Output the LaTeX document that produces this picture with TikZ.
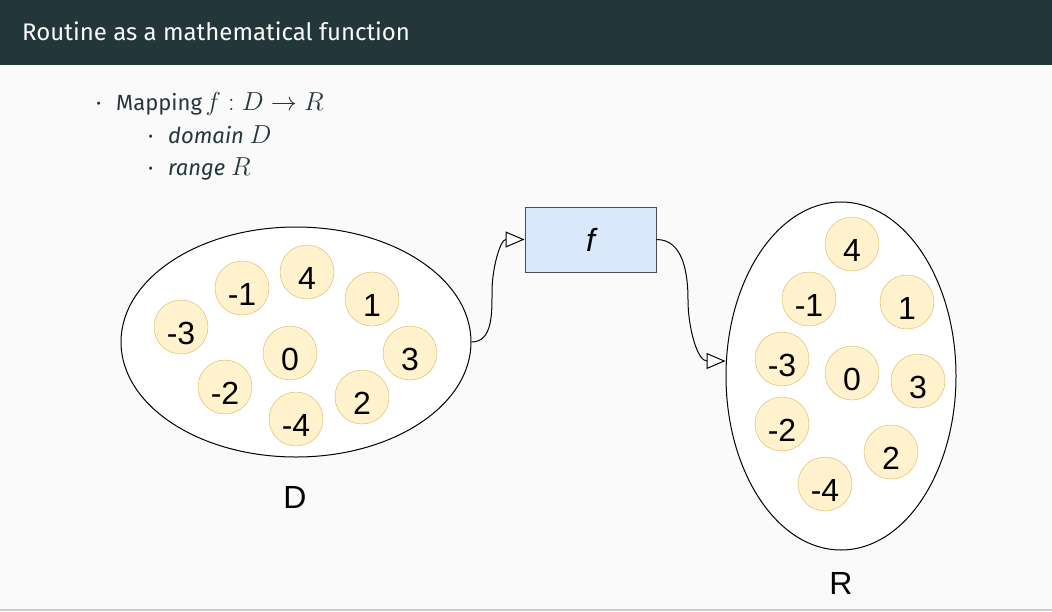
\RequirePackage{fix-cm}
\documentclass[tikz,border=0pt]{standalone}
\usepackage{fontspec}
\setmainfont{Fira Sans}
\newfontfamily\drawfont{Liberation Sans}
\usetikzlibrary{shapes.geometric,arrows.meta}

\definecolor{mDarkTeal}{HTML}{23373B}
\definecolor{pagebg}{HTML}{FAFAFA}
\definecolor{numfill}{HTML}{FFF2CC}
\definecolor{numline}{HTML}{D6B656}
\definecolor{boxfill}{HTML}{DAE8FC}
\definecolor{boxline}{HTML}{4D4D4D}
\newcommand\bigmath[1]{{\fontsize{26}{30}\selectfont$#1$}}

\begin{document}
\begin{tikzpicture}[x=1pt,y=-1pt,
  txt/.style={anchor=base west,text=mDarkTeal,inner sep=0pt,font=\fontsize{22}{26}\selectfont},
  set/.style={ellipse,draw,fill=white,line width=1pt,inner sep=0pt},
  num/.style={circle,draw=numline,fill=numfill,minimum size=54pt,inner sep=0pt,
    font=\drawfont\fontsize{32}{36}\selectfont,text height=34pt,text depth=0pt},
  big/.style={font=\drawfont\fontsize{32}{36}\selectfont},
  flow/.style={line width=1pt,-{Triangle[length=19pt,width=16pt,fill=white]}}]
\useasboundingbox (0,0) rectangle (1052,611);
\fill[pagebg] (0,0) rectangle (1052,611);
\fill[mDarkTeal] (0,0) rectangle (1052,65);
\draw[black!20,line width=1.5pt] (0,610) -- (1052,610);

% frame title and bullets
\node[anchor=base west,inner sep=0pt,text=pagebg,font=\fontsize{24}{28}\selectfont] (title) at (22,40) {Routine as a mathematical function};
\node[txt] (dot1) at (96,110) {\textperiodcentered};
\node[txt] (map) at (116,110) {Mapping\,\bigmath{f:D\to R}};
\node[txt] (dot2) at (148,143) {\textperiodcentered};
\node[txt] (dom) at (168,143) {\emph{domain} \bigmath{D}};
\node[txt] (dot3) at (148,175) {\textperiodcentered};
\node[txt] (rng) at (168,175) {\emph{range} \bigmath{R}};

% the two sets
\node[set,minimum width=350pt,minimum height=230pt] (dset) at (296,342) {};
\node[set,minimum width=230pt,minimum height=348pt] (rset) at (841,376) {};
\node[big] (dlabel) at (295,497) {D};
\node[big] (rlabel) at (841,583) {R};

\foreach \v/\x/\y in {-3/181/327,-1/242/288,4/307/272,1/372/299,0/290/353,
                      3/410/353,-2/225/387,2/362/397,-4/296/419}
  \node[num] (d\v) at (\x,\y) {\v};
\foreach \v/\x/\y in {4/852/244,-1/809/299,1/907/302,-3/782/359,0/852/373,
                      3/918/381,-2/782/424,2/891/452,-4/825/484}
  \node[num] (r\v) at (\x,\y) {\v};

% the function
\node[draw=boxline,fill=boxfill,line width=1pt,minimum width=131pt,minimum height=65pt,
      big] (fbox) at (590.5,239.5) {\itshape f};

\coordinate (bendin) at (492,292);
\coordinate (bendout) at (688,300);
\draw[flow] (dset.east) to[out=0,in=-90] (bendin) to[out=90,in=180] (fbox.west);
\draw[flow] (fbox.east) to[out=0,in=90] (bendout) to[out=-90,in=180] ([yshift=15pt]rset.west);
\end{tikzpicture}
\end{document}
